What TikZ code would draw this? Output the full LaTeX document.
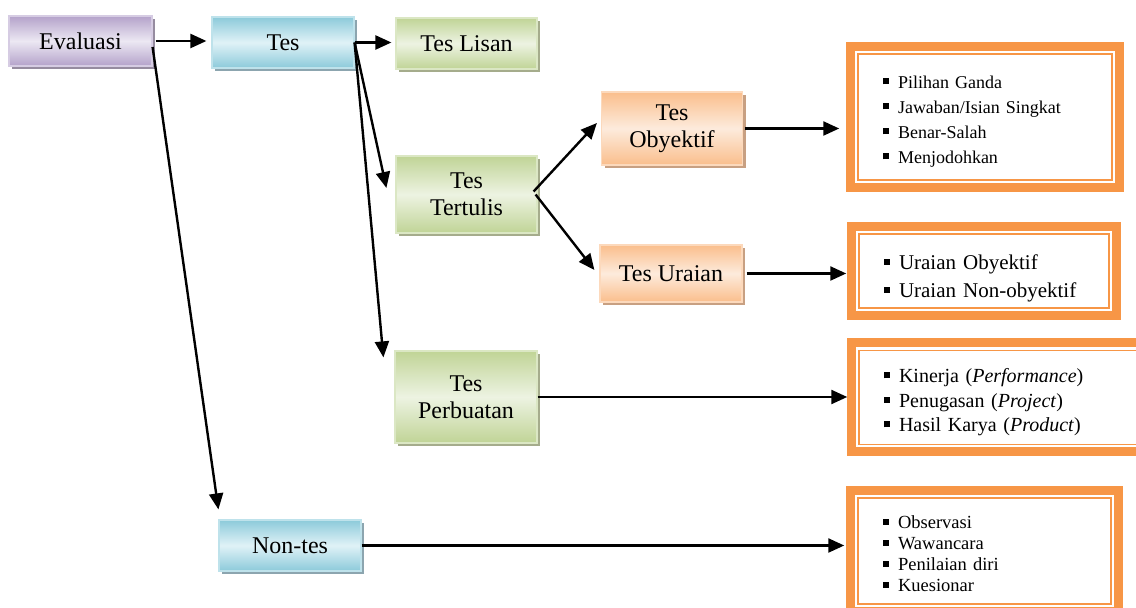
\documentclass[tikz,border=0pt]{standalone}
\usepackage{fontspec}
\setmainfont{Liberation Serif}
\usetikzlibrary{positioning, arrows.meta, shadows}
\definecolor{evpurple}{RGB}{180,162,202}
\definecolor{evpurplelight}{RGB}{236,232,243}
\definecolor{evpurpleshadow}{RGB}{150,140,160}
\definecolor{evblue}{RGB}{140,202,218}
\definecolor{evbluelight}{RGB}{224,242,247}
\definecolor{evblueshadow}{RGB}{140,165,175}
\definecolor{evgreen}{RGB}{192,212,150}
\definecolor{evgreenlight}{RGB}{237,243,226}
\definecolor{evgreenshadow}{RGB}{165,172,140}
\definecolor{evorange}{RGB}{250,190,140}
\definecolor{evorangelight}{RGB}{253,235,220}
\definecolor{evorangeshadow}{RGB}{200,160,130}
\definecolor{evframe}{RGB}{247,150,70}
\newcommand{\butir}{\rule[2.2pt]{3pt}{3pt}\hspace{4.5pt}}
\newcommand{\turun}[1]{\rule{0pt}{#1}}

\begin{document}
\begin{tikzpicture}[x=0.5pt, y=-0.5pt, font=\fontsize{12}{13.5}\selectfont,
    kotak/.style={align=center, inner sep=2pt, line width=0.6pt, shading angle=45},
    ungu/.style={kotak, draw=evpurplelight!60!evpurple, top color=evpurple,
                 bottom color=evpurple, middle color=evpurplelight,
                 drop shadow={shadow xshift=1.5pt, shadow yshift=-1.5pt, fill=evpurpleshadow, opacity=1}},
    biru/.style={kotak, draw=evbluelight!60!evblue, top color=evblue,
                 bottom color=evblue, middle color=evbluelight,
                 drop shadow={shadow xshift=1.5pt, shadow yshift=-1.5pt, fill=evblueshadow, opacity=1}},
    hijau/.style={kotak, draw=evgreenlight!60!evgreen, top color=evgreen,
                  bottom color=evgreen, middle color=evgreenlight,
                  drop shadow={shadow xshift=1.5pt, shadow yshift=-1.5pt, fill=evgreenshadow, opacity=1}},
    jingga/.style={kotak, draw=evorangelight!60!evorange, top color=evorange,
                   bottom color=evorange, middle color=evorangelight,
                   drop shadow={shadow xshift=1.5pt, shadow yshift=-1.5pt, fill=evorangeshadow, opacity=1}},
    daftar/.style={align=left, fill=white, draw=evframe, line width=0.75pt,
                   inner xsep=12.5pt, inner ysep=0pt,
                   preaction={draw=evframe, line width=12pt},
                   preaction={draw=white, line width=3pt}},
    panah/.style={-{Triangle[length=8pt, width=7pt]}, line width=1.2pt}]
  \useasboundingbox (0,0) rectangle (1136,608);

  \node[ungu, minimum width=71.5pt, minimum height=25pt] (evaluasi) at (80.5,41) {Evaluasi};
  \node[biru, minimum width=71pt, minimum height=25.5pt] (tes) at (283,42.5) {Tes};
  \node[biru, minimum width=71pt, minimum height=25.5pt] (nontes) at (290,545.5) {Non-tes};
  \node[hijau, minimum width=70.5pt, minimum height=25.5pt] (lisan) at (466.5,43.5) {Tes Lisan};
  \node[hijau, minimum width=70.5pt, minimum height=38.5pt] (tertulis) at (466.5,194.5) {Tes\\Tertulis};
  \node[hijau, minimum width=71pt, minimum height=46pt] (perbuatan) at (466,397) {Tes\\Perbuatan};
  \node[jingga, minimum width=70.5pt, minimum height=36.5pt] (obyektif) at (672,128.5) {Tes\\Obyektif};
  \node[jingga, minimum width=71pt, minimum height=28.5pt] (uraian) at (671,273.5) {Tes Uraian};

  \node[daftar, text width=102pt, minimum height=63pt, font=\fontsize{9}{12.5}\selectfont] (pg) at (985,117)
       {\turun{11.3pt}\butir Pilihan Ganda\\\butir Jawaban/Isian Singkat\\\butir Benar-Salah\\\butir Menjodohkan};
  \node[daftar, text width=100pt, minimum height=37pt, font=\fontsize{10.5}{14}\selectfont] (ur) at (984,271)
       {\turun{14.4pt}\butir Uraian Obyektif\\\butir Uraian Non-obyektif};
  \node[daftar, text width=115.5pt, minimum height=47pt, font=\fontsize{10}{12.25}\selectfont] (kin) at (999.5,397.5)
       {\turun{12pt}\butir Kinerja (\textit{Performance})\\\butir Penugasan (\textit{Project})\\\butir Hasil Karya (\textit{Product})};
  \node[daftar, text width=101.5pt, minimum height=53pt, font=\fontsize{9.25}{10.5}\selectfont] (obs) at (984.5,551)
       {\turun{9.5pt}\butir Observasi\\\butir Wawancara\\\butir Penilaian diri\\\butir Kuesionar};

  \draw[panah, shorten <=1.5pt, shorten >=2.5pt] (evaluasi.east) -- (evaluasi.east -| tes.west);
  \draw[panah] ([yshift=-3pt]evaluasi.east) -- ([yshift=5pt]nontes.north west);
  \draw[panah, shorten >=2pt] (tes.east) -- (tes.east -| lisan.west);
  \draw[panah] (tes.east) -- ([xshift=-4.5pt, yshift=3.25pt]tertulis.west);
  \draw[panah] (tes.east) -- ([xshift=-5.5pt, yshift=-3.5pt]perbuatan.north west);
  \draw[panah] ([xshift=-2pt, yshift=1.5pt]tertulis.east) -- ([xshift=-2pt, yshift=2.75pt]obyektif.west);
  \draw[panah] ([xshift=-1pt]tertulis.east) -- ([xshift=-2.5pt, yshift=1.75pt]uraian.west);
  \draw[panah, shorten <=1pt, shorten >=9pt] (obyektif.east) -- (obyektif.east -| pg.west);
  \draw[panah, shorten <=2pt, shorten >=6pt] (uraian.east) -- (uraian.east -| ur.west);
  \draw[panah, shorten >=5.5pt] (perbuatan.east) -- (perbuatan.east -| kin.west);
  \draw[panah, shorten >=6.5pt] (nontes.east) -- (nontes.east -| obs.west);
\end{tikzpicture}
\end{document}
